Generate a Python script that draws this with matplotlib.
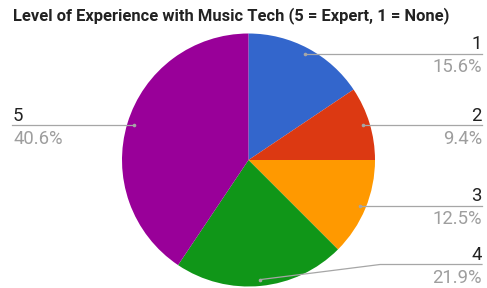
import numpy as np
import matplotlib
matplotlib.use("Agg")
import matplotlib.pyplot as plt

title = "Level of Experience with Music Tech (5 = Expert, 1 = None)"
categories = ["1", "2", "3", "4", "5"]
values = [15.6, 9.4, 12.5, 21.9, 40.6]
colors = ["#3366cc", "#dc3912", "#ff9900", "#109618", "#990099"]

W, H = 487, 288
fig = plt.figure(figsize=(W / 100, H / 100), dpi=100)
ax = fig.add_axes([0, 0, 1, 1])

cx, cy, R = 248.5, H - 160, 126.5
wedges, _ = ax.pie(values, colors=colors, startangle=90, counterclock=False,
                   center=(cx, cy), radius=R, frame=True,
                   wedgeprops=dict(linewidth=0))
ax.set_xlim(0, W)
ax.set_ylim(0, H)
ax.set_aspect("equal")
ax.axis("off")

line_col = "#a6a6a6"
num_col = "#222222"
pct_col = "#9e9e9e"
fs = 13.3
right_x, left_x = 482, 12
# label line heights which differ from the dot (to avoid crowding)
line_override = {"4": H - 264.5}

for w, cat, v in zip(wedges, categories, values):
    th = np.deg2rad((w.theta1 + w.theta2) / 2)
    dx, dy = cx + 0.95 * R * np.cos(th), cy + 0.95 * R * np.sin(th)
    ax.plot([dx], [dy], "o", ms=2.6, color=line_col, mec="none", zorder=5)
    ly = line_override.get(cat, dy)
    if np.cos(th) >= 0:
        if cat == "4":
            xs = [dx, 380, right_x]
            ys = [dy, ly, ly]
        else:
            xs = [dx, right_x]
            ys = [dy, ly]
        tx, ha = right_x, "right"
    else:
        xs = [dx, left_x]
        ys = [dy, ly]
        tx, ha = left_x + 1, "left"
    ax.plot(xs, ys, color=line_col, lw=0.9, zorder=4)
    ax.text(tx, ly + 4.5, cat, ha=ha, va="baseline", fontsize=fs,
            family="Roboto", color=num_col)
    ax.text(tx, ly - 4.5, f"{v:.1f}%", ha=ha, va="top", fontsize=fs,
            family="Roboto", color=pct_col)

ax.text(13, H - 20.7, title, ha="left", va="baseline", fontsize=11.9,
        family="Roboto", weight="bold", color="#222222")

fig.savefig("out.png", dpi=100)
